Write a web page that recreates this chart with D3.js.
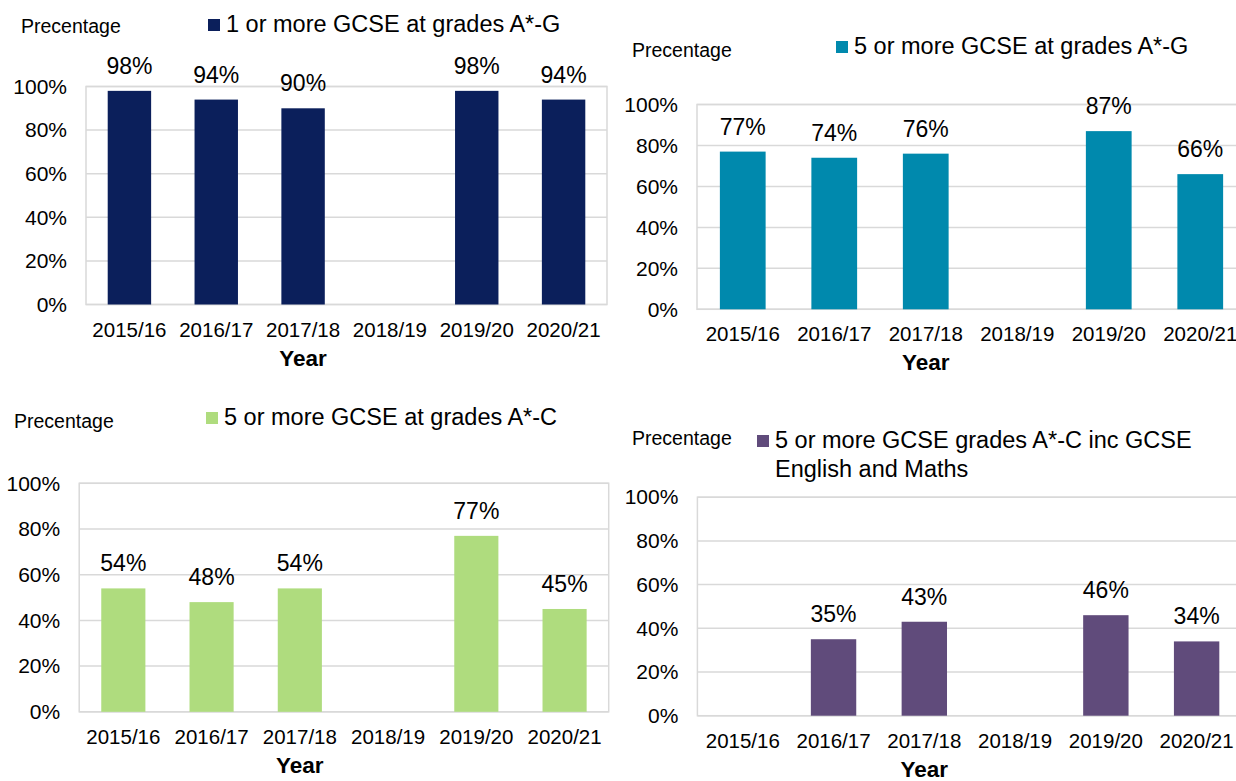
<!DOCTYPE html>
<html>
<head>
<meta charset="utf-8">
<script src="https://cdn.jsdelivr.net/npm/d3@7"></script>
<style>
  body { margin: 0; background: #fff; }
  svg { display: block; font-family: "Liberation Sans", Arial, sans-serif; }
</style>
</head>
<body>
<svg id="chart" width="1236" height="781"></svg>
<script>
const years = ['2015/16', '2016/17', '2017/18', '2018/19', '2019/20', '2020/21'];

const oneOrMoreAG = [98, 94, 90, null, 98, 94];
const fiveOrMoreAG = [77, 74, 76, null, 87, 66];
const fiveOrMoreAC = [54, 48, 54, null, 77, 45];
const fiveOrMoreACEngMaths = [null, 35, 43, null, 46, 34];

const yTicks = [0, 20, 40, 60, 80, 100];
const yLabel = 'Precentage';
const xLabel = 'Year';

// panel layout: plot box, y label spot, legend spot
const panels = [
  {values: oneOrMoreAG, name: ['1 or more GCSE at grades A*-G'], color: '#0b1f5b',
   box: [86, 86.5, 607, 304.5], ylab: [21, 33], leg: [208, 19]},
  {values: fiveOrMoreAG, name: ['5 or more GCSE at grades A*-G'], color: '#0089ad',
   box: [697, 104.5, 1246, 309.3], ylab: [632, 57], leg: [836, 41]},
  {values: fiveOrMoreAC, name: ['5 or more GCSE at grades A*-C'], color: '#afdc7e',
   box: [79.2, 483.3, 608.7, 711.8], ylab: [14, 428], leg: [206, 412]},
  {values: fiveOrMoreACEngMaths, name: ['5 or more GCSE grades A*-C inc GCSE', 'English and Maths'], color: '#604b7b',
   box: [697.4, 497.2, 1242, 715.7], ylab: [632, 445], leg: [757, 435]}
];

const svg = d3.select('#chart');
const grid = '#d9d9d9';

panels.forEach(p => {
  const [x0, y0, x1, y1] = p.box;
  const w = x1 - x0;
  const h = y1 - y0;

  const g = svg.append('g')
    .attr('transform', 'translate(' + x0 + ',' + y0 + ')');

  const x = d3.scaleBand()
    .domain(years)
    .range([0, w])
    .paddingInner(0.5)
    .paddingOuter(0.25);

  const y = d3.scaleLinear()
    .domain([0, 100])
    .range([h, 0]);

  // gridlines
  g.append('g')
    .selectAll('line')
    .data(yTicks)
    .join('line')
    .attr('x1', 0)
    .attr('x2', w)
    .attr('y1', d => y(d))
    .attr('y2', d => y(d))
    .attr('stroke', grid)
    .attr('stroke-width', 1.5);

  // plot frame
  g.append('rect')
    .attr('x', 0)
    .attr('y', 0)
    .attr('width', w)
    .attr('height', h)
    .attr('fill', 'none')
    .attr('stroke', grid)
    .attr('stroke-width', 1.5);

  const yAxis = g.append('g')
    .call(d3.axisLeft(y).tickValues(yTicks).tickSize(0).tickPadding(19).tickFormat(d => d + '%'));
  yAxis.select('.domain').remove();
  yAxis.selectAll('text')
    .attr('font-size', 21)
    .attr('fill', '#000')
    .attr('font-family', null);

  const xAxis = g.append('g')
    .attr('transform', 'translate(0,' + h + ')')
    .call(d3.axisBottom(x).tickSize(0));
  xAxis.select('.domain').remove();
  xAxis.selectAll('text')
    .attr('y', 32)
    .attr('dy', null)
    .attr('font-size', 20.5)
    .attr('fill', '#000')
    .attr('font-family', null);

  const data = years.map((yr, i) => ({year: yr, value: p.values[i]}))
    .filter(d => d.value !== null);

  g.selectAll('.bar')
    .data(data)
    .join('rect')
    .attr('class', 'bar')
    .attr('x', d => x(d.year))
    .attr('width', x.bandwidth())
    .attr('y', d => y(d.value))
    .attr('height', d => h - y(d.value))
    .attr('fill', p.color);

  g.selectAll('.lbl')
    .data(data)
    .join('text')
    .attr('class', 'lbl')
    .attr('x', d => x(d.year) + x.bandwidth() / 2)
    .attr('y', d => y(d.value) - 17)
    .attr('text-anchor', 'middle')
    .attr('font-size', 23)
    .attr('fill', '#000')
    .text(d => d.value + '%');

  g.append('text')
    .attr('x', x(years[2]) + x.bandwidth() / 2)
    .attr('y', h + 61)
    .attr('text-anchor', 'middle')
    .attr('font-size', 22.5)
    .attr('font-weight', 'bold')
    .attr('fill', '#000')
    .text(xLabel);

  svg.append('text')
    .attr('x', p.ylab[0])
    .attr('y', p.ylab[1])
    .attr('font-size', 19.5)
    .attr('fill', '#000')
    .text(yLabel);

  const leg = svg.append('g')
    .attr('transform', 'translate(' + p.leg[0] + ',' + p.leg[1] + ')');
  leg.append('rect')
    .attr('width', 12)
    .attr('height', 12)
    .attr('fill', p.color);
  leg.selectAll('text')
    .data(p.name)
    .join('text')
    .attr('x', 18)
    .attr('y', (d, i) => 13 + i * 28.5)
    .attr('font-size', 23.5)
    .attr('fill', '#000')
    .text(d => d);
});
</script>
</body>
</html>
